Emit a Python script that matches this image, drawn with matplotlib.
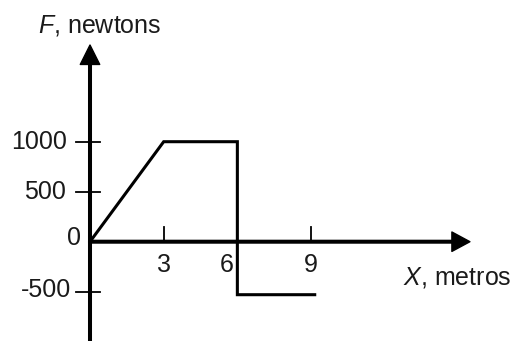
import matplotlib
matplotlib.use("Agg")
import matplotlib.pyplot as plt

# force-displacement data (metres, newtons)
x_m = [0, 3, 6, 6, 9.15]
force_n = [0, 1000, 1000, -530, -530]
x_ticks = [3, 6, 9]
y_ticks = [1000, 500, 0, -500]
y_tick_labels = ["1000", "500", "0", "-500"]

plt.rcParams['font.family'] = ['Liberation Sans', 'DejaVu Sans']
plt.rcParams['mathtext.fontset'] = 'custom'
plt.rcParams['mathtext.it'] = 'Liberation Sans:italic'
plt.rcParams['mathtext.rm'] = 'Liberation Sans'

fig = plt.figure(figsize=(5.30, 3.41), dpi=100)
ax = fig.add_axes([0, 0, 1, 1])
ax.axis('off')

# pixel mapping: x=0 at 90px, 24.56 px per metre; F=0 at 241.7px, 0.1 px per newton
px_x = 24.56
px_y = 0.1
ax.set_xlim(-90 / px_x, (530 - 90) / px_x)
ax.set_ylim(-(341 - 241.7) / px_y, 241.7 / px_y)

txt = '#1a1a1a'
fs = 18

# axes with arrows
ax.annotate('', xy=(0, 1967), xytext=(0, -1000),
            arrowprops=dict(facecolor='black', edgecolor='black', width=1.9,
                            headwidth=14, headlength=14, shrink=0))
ax.annotate('', xy=(15.47, 0), xytext=(0, 0),
            arrowprops=dict(facecolor='black', edgecolor='black', width=1.9,
                            headwidth=14, headlength=13, shrink=0))

# y ticks (cross the axis)
for v in y_ticks:
    if v != 0:
        ax.plot([-14 / px_x, 10 / px_x], [v, v], color='black', lw=1.3)
# x ticks (above the axis only)
for v in x_ticks:
    if v != 6:
        ax.plot([v, v], [0, 150], color='black', lw=1.3)

# tick labels
y_label_right = {1000: 67, 500: 66, 0: 81, -500: 71}
y_label_off = {1000: 0, 500: 0, 0: 35, -500: 15}
for v, lab in zip(y_ticks, y_tick_labels):
    ax.text((y_label_right[v] - 90) / px_x, v + y_label_off[v], lab,
            ha='right', va='center', fontsize=fs, color=txt)
x_label_pos = {3: 3, 6: (226.7 - 90) / px_x, 9: 9}
for v in x_ticks:
    ax.text(x_label_pos[v], -235, str(v), ha='center', va='center',
            fontsize=fs, color=txt)

# data line
ax.plot(x_m, force_n, color='black', lw=2.2, solid_joinstyle='miter')

# axis titles
ax.text((38 - 90) / px_x, (241.7 - 25) / px_y, r'$\mathit{F}$, newtons',
        ha='left', va='center', fontsize=fs, color=txt)
ax.text((403 - 90) / px_x, (241.7 - 277) / px_y, r'$\mathit{X}$, metros',
        ha='left', va='center', fontsize=fs, color=txt)

fig.savefig('out.png', dpi=100)
